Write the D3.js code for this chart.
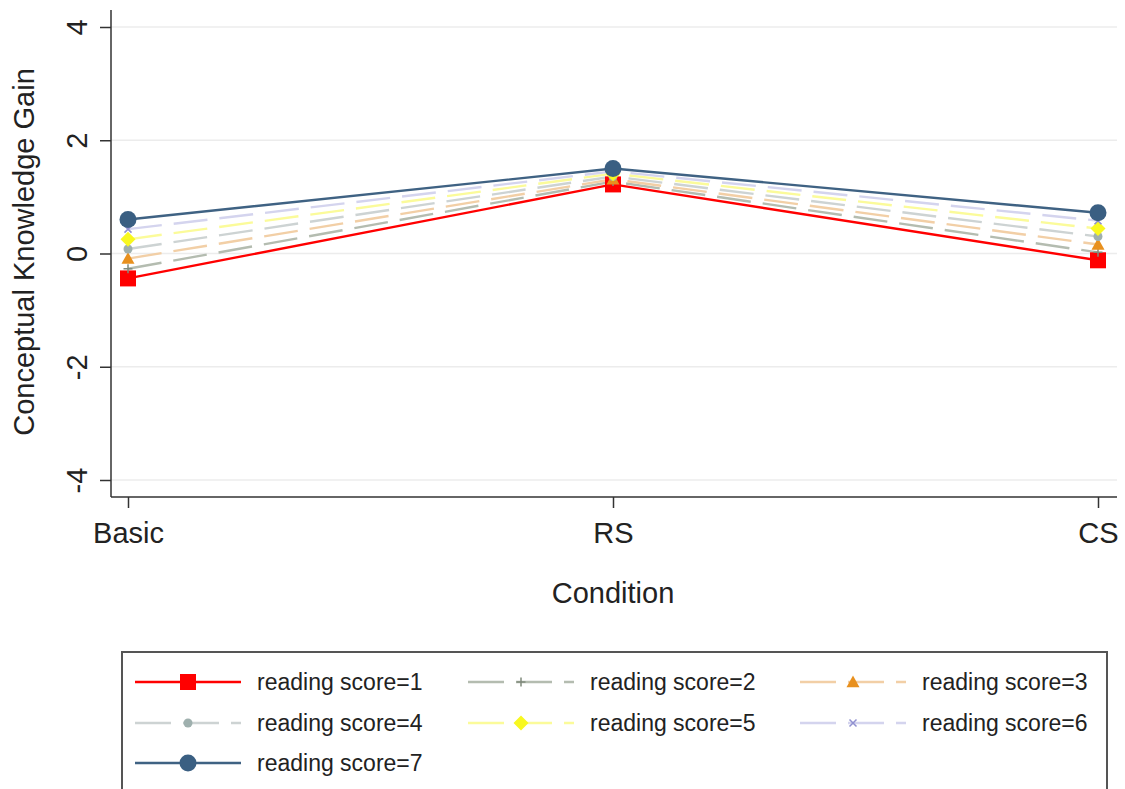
<!DOCTYPE html>
<html>
<head>
<meta charset="utf-8">
<script src="https://cdn.jsdelivr.net/npm/d3@7"></script>
<style>
  body { margin: 0; background: #fff; }
  svg { font-family: "Liberation Sans", Arial, sans-serif; }
</style>
</head>
<body>
<div id="chart"></div>
<script>
// conditions on the x axis, y ticks
const conditions = ["Basic", "RS", "CS"];
const yTicks = [-4, -2, 0, 2, 4];

// predicted gain by reading score
const score1 = [-0.44, 1.22, -0.12];
const score2 = [-0.27, 1.27, 0.02];
const score3 = [-0.09, 1.31, 0.16];
const score4 = [0.08, 1.36, 0.30];
const score5 = [0.25, 1.41, 0.44];
const score6 = [0.43, 1.45, 0.58];
const score7 = [0.60, 1.50, 0.72];
const seriesNames = ["reading score=1", "reading score=2", "reading score=3",
  "reading score=4", "reading score=5", "reading score=6", "reading score=7"];

const series = [
  { name: seriesNames[0], values: score1, line: "#ff0000", mark: "#ff0000", dash: null, shape: "square", size: 16 },
  { name: seriesNames[1], values: score2, line: "#b4bcb0", mark: "#808a7c", dash: "34,12", shape: "plus", size: 9 },
  { name: seriesNames[2], values: score3, line: "#f2cfa6", mark: "#e8901e", dash: "34,12", shape: "triangle", size: 13 },
  { name: seriesNames[3], values: score4, line: "#cdd3d3", mark: "#9fb0ae", dash: "34,12", shape: "circle", size: 9 },
  { name: seriesNames[4], values: score5, line: "#fbfb9a", mark: "#f8f820", dash: "34,12", shape: "diamond", size: 15 },
  { name: seriesNames[5], values: score6, line: "#d4d4ee", mark: "#9090d0", dash: "34,12", shape: "cross", size: 7 },
  { name: seriesNames[6], values: score7, line: "#3f6283", mark: "#3a5f82", dash: null, shape: "circle", size: 17 }
];

const W = 1125, H = 789;
const svg = d3.select("#chart").append("svg").attr("width", W).attr("height", H);

const x = d3.scalePoint().domain(conditions).range([128, 1098]);
const y = d3.scaleLinear().domain([-4, 4]).range([480, 27]);

// gridlines
svg.append("g").selectAll("line").data(yTicks).enter().append("line")
  .attr("x1", 111).attr("x2", 1117)
  .attr("y1", d => y(d)).attr("y2", d => y(d))
  .attr("stroke", "#ececec").attr("stroke-width", 1.5);

// y axis
const yAxis = svg.append("g").attr("transform", "translate(111,0)")
  .call(d3.axisLeft(y).tickValues(yTicks).tickFormat(d => String(d)).tickSize(11).tickSizeOuter(0));
yAxis.select(".domain").attr("d", "M0,10V497").attr("stroke", "#333").attr("stroke-width", 1.5);
yAxis.selectAll(".tick line").attr("stroke", "#333").attr("stroke-width", 1.5);
yAxis.selectAll(".tick text").attr("font-size", 29).attr("fill", "#222")
  .attr("x", 0).attr("y", 0).attr("dy", 0).attr("text-anchor", "middle")
  .attr("transform", "translate(-24,0) rotate(-90)");

// x axis
const xAxis = svg.append("g").attr("transform", "translate(0,497)")
  .call(d3.axisBottom(x).tickSize(11).tickSizeOuter(0));
xAxis.select(".domain").attr("d", "M111,0H1117").attr("stroke", "#333").attr("stroke-width", 1.5);
xAxis.selectAll(".tick line").attr("stroke", "#333").attr("stroke-width", 1.5);
xAxis.selectAll(".tick text").attr("font-size", 29).attr("fill", "#222")
  .attr("y", 46).attr("dy", 0);

// axis titles
svg.append("text").attr("x", 613).attr("y", 603).attr("text-anchor", "middle")
  .attr("font-size", 29).attr("fill", "#222").text("Condition");
svg.append("text").attr("transform", "translate(34,252) rotate(-90)")
  .attr("text-anchor", "middle").attr("font-size", 29).attr("fill", "#222")
  .text("Conceptual Knowledge Gain");

function drawMarker(g, s, cx, cy) {
  const r = s.size / 2;
  if (s.shape === "square") {
    g.append("rect").attr("x", cx - r).attr("y", cy - r).attr("width", s.size).attr("height", s.size).attr("fill", s.mark);
  } else if (s.shape === "circle") {
    g.append("circle").attr("cx", cx).attr("cy", cy).attr("r", r).attr("fill", s.mark);
  } else if (s.shape === "triangle") {
    g.append("path").attr("d", `M${cx},${cy - r}L${cx + r},${cy + r * 0.8}L${cx - r},${cy + r * 0.8}Z`).attr("fill", s.mark);
  } else if (s.shape === "diamond") {
    g.append("path").attr("d", `M${cx},${cy - r}L${cx + r},${cy}L${cx},${cy + r}L${cx - r},${cy}Z`).attr("fill", s.mark);
  } else if (s.shape === "plus") {
    g.append("path").attr("d", `M${cx - r},${cy}H${cx + r}M${cx},${cy - r}V${cy + r}`).attr("stroke", s.mark).attr("stroke-width", 1.5);
  } else if (s.shape === "cross") {
    g.append("path").attr("d", `M${cx - r},${cy - r}L${cx + r},${cy + r}M${cx - r},${cy + r}L${cx + r},${cy - r}`).attr("stroke", s.mark).attr("stroke-width", 1.5);
  }
}

const line = d3.line().x((d, i) => x(conditions[i])).y(d => y(d));

// lines
series.forEach(s => {
  svg.append("path").datum(s.values).attr("d", line).attr("fill", "none")
    .attr("stroke", s.line).attr("stroke-width", 2.4)
    .attr("stroke-dasharray", s.dash);
});
// markers
series.forEach(s => {
  const g = svg.append("g");
  s.values.forEach((v, i) => drawMarker(g, s, x(conditions[i]), y(v)));
});

// legend
svg.append("rect").attr("x", 122).attr("y", 652).attr("width", 985).attr("height", 150)
  .attr("fill", "#fff").attr("stroke", "#555").attr("stroke-width", 2);
const colX = [135, 468, 800];
const rowY = [682, 723, 763];
series.forEach((s, i) => {
  const lx = colX[i % 3], ly = rowY[Math.floor(i / 3)];
  const g = svg.append("g");
  g.append("line").attr("x1", lx).attr("x2", lx + 106).attr("y1", ly).attr("y2", ly)
    .attr("stroke", s.line).attr("stroke-width", 2.4)
    .attr("stroke-dasharray", s.dash ? "36,12" : null);
  drawMarker(g, s, lx + 53, ly);
  g.append("text").attr("x", lx + 122).attr("y", ly + 8).attr("font-size", 23)
    .attr("fill", "#222").text(s.name);
});
</script>
</body>
</html>
